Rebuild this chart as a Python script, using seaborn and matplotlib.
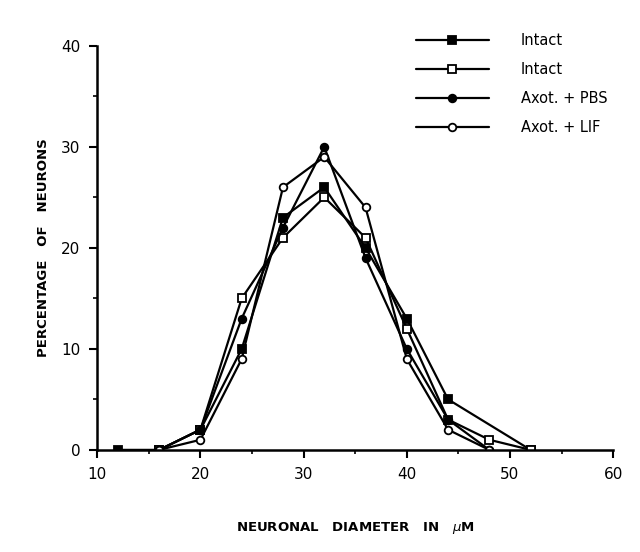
import pandas as pd
import matplotlib.pyplot as plt
import seaborn as sns

sns.set_style("ticks")
plt.rcParams['font.family'] = ['DejaVu Sans']
plt.rcParams['text.color'] = 'black'
plt.rcParams['axes.labelcolor'] = 'black'
plt.rcParams['xtick.color'] = 'black'
plt.rcParams['ytick.color'] = 'black'
plt.rcParams['axes.edgecolor'] = 'black'

# diametro (um) y porcentaje de neuronas por grupo
diam_intact1 = [12, 16, 20, 24, 28, 32, 36, 40, 44, 52]
pct_intact1 = [0, 0, 2, 10, 23, 26, 20, 13, 5, 0]

diam_intact2 = [16, 20, 24, 28, 32, 36, 40, 44, 48, 52]
pct_intact2 = [0, 2, 15, 21, 25, 21, 12, 3, 1, 0]

diam_pbs = [16, 20, 24, 28, 32, 36, 40, 44, 48]
pct_pbs = [0, 2, 13, 22, 30, 19, 10, 3, 0]

diam_lif = [16, 20, 24, 28, 32, 36, 40, 44, 48]
pct_lif = [0, 1, 9, 26, 29, 24, 9, 2, 0]

labels = ["Intact", "Intact", "Axot. + PBS", "Axot. + LIF"]

fig = plt.figure(figsize=(6.4, 5.52), dpi=100)
ax = fig.add_axes([0.152, 0.185, 0.806, 0.732])

series = [
    (diam_intact1, pct_intact1, "s", "black"),
    (diam_intact2, pct_intact2, "s", "white"),
    (diam_pbs, pct_pbs, "o", "black"),
    (diam_lif, pct_lif, "o", "white"),
]
for (x, y, m, fc), lab in zip(series, labels):
    df = pd.DataFrame({"diam": x, "pct": y})
    sns.lineplot(x="diam", y="pct", data=df, ax=ax, color="black", lw=1.6,
                 marker=m, markersize=5.5, markerfacecolor=fc,
                 markeredgecolor="black", markeredgewidth=1.3, label=lab)

ax.set_xlim(10, 60)
ax.set_ylim(0, 40)
ax.set_xticks([10, 20, 30, 40, 50, 60])
ax.set_yticks([0, 10, 20, 30, 40])
ax.set_xticks([15, 25, 35, 45, 55], minor=True)
ax.set_yticks([5, 15, 25, 35], minor=True)
ax.tick_params(which="major", direction="out", length=6, width=1.5, labelsize=11, pad=6)
ax.tick_params(which="minor", direction="out", length=3, width=1.2)
sns.despine(ax=ax)
for s in ["left", "bottom"]:
    ax.spines[s].set_linewidth(1.8)

ax.set_xlabel(r"NEURONAL   DIAMETER   IN   $\mu$M", fontsize=9.5, fontweight="bold", labelpad=28)
ax.set_ylabel("PERCENTAGE   OF   NEURONS", fontsize=9.5, fontweight="bold", labelpad=8)

ax.legend(loc="upper right", frameon=False, fontsize=10.5, handlelength=5,
          handletextpad=2.2, labelspacing=0.95, bbox_to_anchor=(1.014, 1.064))

plt.savefig("out.png", dpi=100)
